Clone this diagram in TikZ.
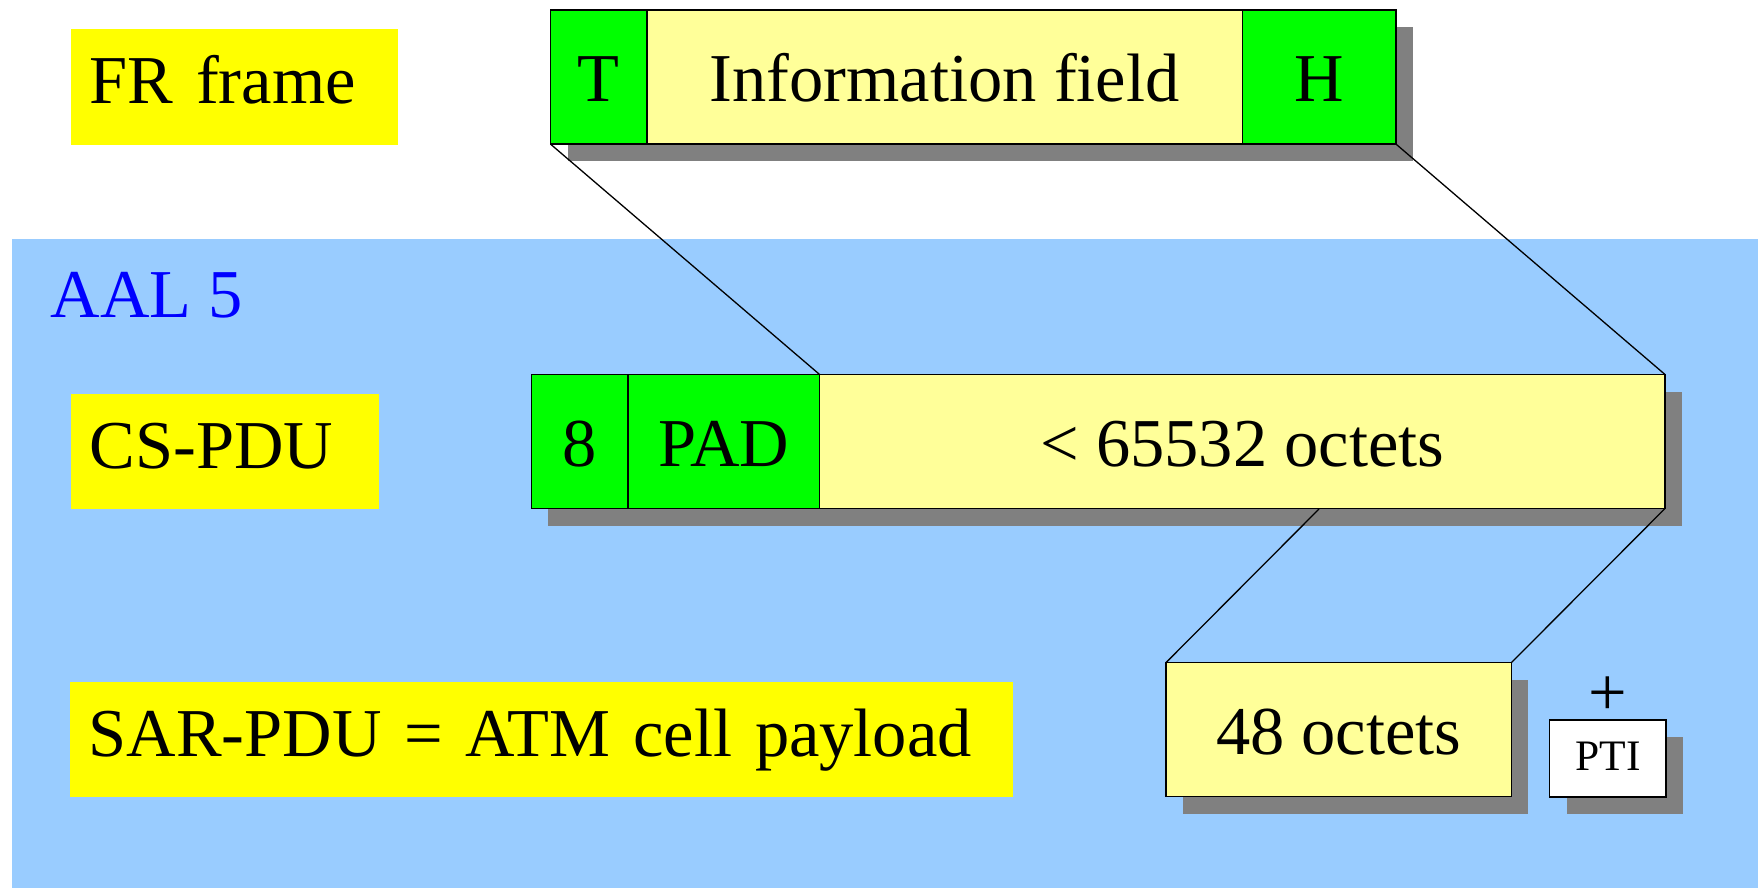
\documentclass[tikz,border=0pt]{standalone}
\usepackage{fontspec}
\setmainfont{Liberation Serif}
\usetikzlibrary{calc}
\definecolor{bgblue}{RGB}{153,204,255}
\definecolor{lblyellow}{RGB}{255,255,0}
\definecolor{paleyellow}{RGB}{255,255,153}
\definecolor{fgreen}{RGB}{0,255,0}
\definecolor{shadowgray}{RGB}{128,128,128}
\definecolor{aalblue}{RGB}{0,0,255}
\newcommand{\myBig}{\fontsize{68.5}{80}\selectfont}
\newcommand{\mySmall}{\fontsize{43.5}{52}\selectfont}
\pgfdeclarelayer{back}
\pgfdeclarelayer{shadow}
\pgfsetlayers{back,shadow,main}
\tikzset{
  lbl/.style={fill=lblyellow, anchor=north west, minimum height=115.5pt,
    inner xsep=19pt, inner ysep=0pt, text height=34pt, text depth=0pt,
    outer sep=0pt, align=left, font=\myBig},
  cell/.style={draw=black, line width=1.6pt, anchor=north west, outer sep=0pt,
    minimum height=134pt, inner sep=0pt, text height=49pt, text depth=0pt,
    font=\myBig},
  greencell/.style={cell, fill=fgreen},
  palecell/.style={cell, fill=paleyellow},
  shade/.style={fill=shadowgray},
  link/.style={draw=black, line width=1.3pt}
}
\begin{document}
\begin{tikzpicture}[x=1pt,y=-1pt]
\useasboundingbox (0,0) rectangle (1758,888);
\begin{pgfonlayer}{back}
  \fill[bgblue] (12.3,238.8) rectangle (1758,888);
\end{pgfonlayer}

% labels
\node[lbl, text width=289.4pt] (fr) at (70.6,29.2) {FR frame};
\node[lbl, text width=270.4pt] (cs) at (70.6,393.5) {CS-PDU};
\node[lbl, text width=905pt] (sar) at (69.5,681.7) {SAR-PDU = ATM cell payload};
\node[anchor=base west, text=aalblue, font=\myBig, inner sep=0pt] (aal) at (50.5,317) {AAL 5};

% FR frame
\node[greencell, minimum width=96.5pt] (t) at (550.5,10.1) {T};
\node[palecell, minimum width=595.3pt] (info) at (t.north east) {Information field};
\node[greencell, minimum width=153.7pt] (h) at (info.north east) {H};

% CS-PDU
\node[greencell, minimum width=96.5pt] (eight) at (531.4,374.5) {8};
\node[greencell, minimum width=191.7pt] (pad) at (eight.north east) {PAD};
\node[palecell, minimum width=845.4pt] (payload) at (pad.north east) {< 65532 octets};

% SAR-PDU
\node[palecell, minimum width=345.4pt] (o48) at (1166,662.6) {48 octets};
\node[cell, fill=white, minimum width=116.6pt, minimum height=77.4pt,
  text height=23pt, font=\mySmall] (pti) at (1549.6,719.8) {PTI};
\node[anchor=base, font=\myBig, inner sep=0pt] (plus) at (1607.9,715.5) {+};

% shadows
\begin{pgfonlayer}{shadow}
  \fill[shade] ($(t.north west)+(17,17)$) rectangle ($(h.south east)+(17,17)$);
  \fill[shade] ($(eight.north west)+(17,17)$) rectangle ($(payload.south east)+(17,17)$);
  \fill[shade] ($(o48.north west)+(17,17)$) rectangle ($(o48.south east)+(17,17)$);
  \fill[shade] ($(pti.north west)+(17,17)$) rectangle ($(pti.south east)+(17,17)$);
\end{pgfonlayer}

% connectors
\coordinate (split) at (1319,509);
\draw[link] (t.south west) -- (pad.north east);
\draw[link] (h.south east) -- (payload.north east);
\draw[link] (split) -- (o48.north west);
\draw[link] (payload.south east) -- (o48.north east);
\end{tikzpicture}
\end{document}
